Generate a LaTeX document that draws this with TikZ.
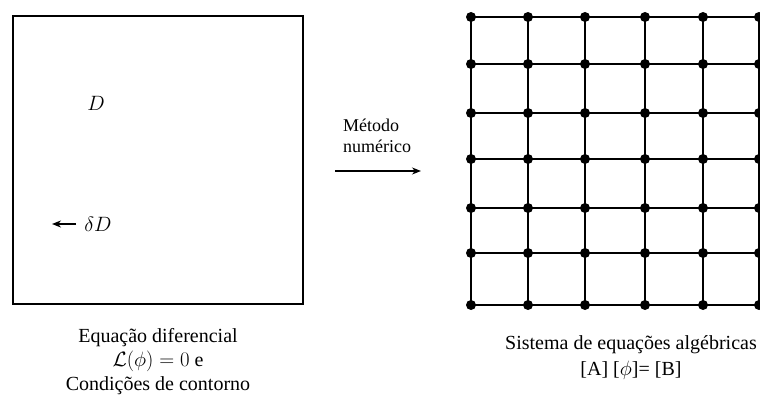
\documentclass[tikz,border=0pt]{standalone}
\usepackage{fontspec}
\setmainfont{Liberation Serif}
\usetikzlibrary{arrows.meta}
\begin{document}
\begin{tikzpicture}[x=1pt,y=-1pt,
  lbl/.style={font=\fontsize{20}{21}\selectfont, inner sep=0pt, align=center},
  dot/.style={circle, fill=black, inner sep=0pt, minimum size=10pt},
  gridline/.style={line width=2.4pt},
  arr/.style={line width=1.8pt, -{Stealth[length=9pt,width=7pt]}}]
\useasboundingbox[fill=white] (0,0) rectangle (760,401);
% domain box
\node[draw, line width=2pt, minimum width=290pt, minimum height=287pt, inner sep=0pt] (box) at (158,160) {};
\node[lbl] (D) at (96,103) {$D$};
\node[lbl] (dD) at (98,224) {$\delta D$};
\coordinate (dDa) at (76,224);
\coordinate (dDb) at (52,224);
\draw[arr] (dDa) -- (dDb);
% method arrow
\node[font=\fontsize{18}{21}\selectfont, inner sep=0pt, align=left, anchor=west] (met) at (343,136) {Método\\numérico};
\coordinate (ma) at (335,171);
\coordinate (mb) at (421,171);
\draw[arr] (ma) -- (mb);
% grid
\def\xs{{471,528,585,645,703,759}}
\def\ys{{17,64,113,159,208,253,305}}
\foreach \i in {0,...,5}{
  \foreach \j in {0,...,6}{
    \pgfmathsetmacro{\xx}{\xs[\i]}
    \pgfmathsetmacro{\yy}{\ys[\j]}
    \node[dot] (n-\i-\j) at (\xx,\yy) {};
  }
}
\foreach \i in {0,...,5}{
  \foreach \j [count=\k from 1] in {0,...,5}{
    \draw[gridline] (n-\i-\j.center) -- (n-\i-\k.center);
  }
}
\foreach \j in {0,...,6}{
  \foreach \i [count=\k from 1] in {0,...,4}{
    \draw[gridline] (n-\i-\j.center) -- (n-\k-\j.center);
  }
}
% captions
\node[lbl, font=\fontsize{20}{24}\selectfont] (cap1) at (158,362) {Equação diferencial\\$\mathcal{L}(\phi) = 0$ e\\Condições de contorno};
\node[lbl, font=\fontsize{20}{26}\selectfont] (cap2) at (631,358) {Sistema de equações algébricas\\{}[A] [$\phi$]= [B]};
\end{tikzpicture}
\end{document}
